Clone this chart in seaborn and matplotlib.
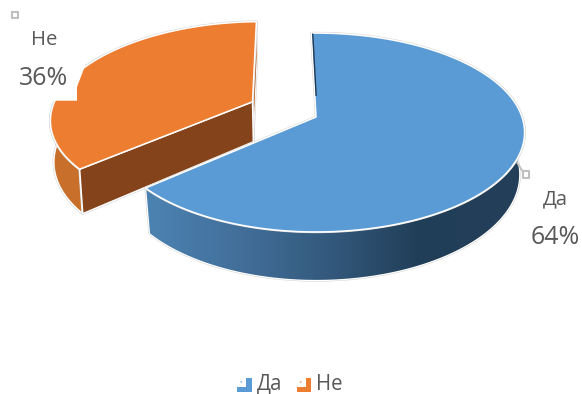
import numpy as np
import matplotlib
matplotlib.use("Agg")
import matplotlib.pyplot as plt
from matplotlib.colors import to_rgb
from matplotlib.legend_handler import HandlerBase
from matplotlib.patches import Circle, Patch, Polygon
import seaborn as sns

# Survey answers
categories = ["Да", "Не"]
shares = [64, 36]
top_colors = ["#5b9bd5", "#ed7d31"]

# Projection of the tilted pie onto the canvas (pixel units)
CX, CY = 316.0, 117.0
RX_RIGHT, RX_LEFT, RY = 206.0, 203.0, 97.0
PERSP = 0.156
DEPTH = 41.0
BASE_SHRINK = 0.977
BASE_SHRINK_OUT = 0.987
EXPLODE = 0.35
LIFT = 0.02
START = -1.5

sns.set_theme(style="white")
plt.rcParams["font.family"] = ["Open Sans", "DejaVu Sans"]
TEXT = "#595959"

fig = plt.figure(figsize=(5.82, 3.94), dpi=100)
ax = fig.add_axes([0, 0, 1, 1])


def project(x, y):
    w = 1 + PERSP * y
    rx = np.where(np.asarray(x) < 0, RX_LEFT, RX_RIGHT)
    return CX + rx * x / w, CY - RY * y / w, w


def ring(theta, off, shrink):
    """Top and base outlines for clock angles theta on a pie moved by off."""
    t = np.radians(theta)
    sx, sy, w = project(off[0] + np.sin(t), off[1] + np.cos(t))
    top = np.column_stack([sx, sy])
    base = np.column_stack([CX + (sx - CX) * shrink, sy + DEPTH / w])
    return top, base


def apex(off, shrink):
    sx, sy, w = project(off[0], off[1])
    return np.array([sx, sy]), np.array([CX + (sx - CX) * shrink, sy + DEPTH / w])


def face(points, color, z, edge="white", lw=1.1):
    ax.add_patch(Polygon(points, closed=True, facecolor=color, edgecolor="#d4d4d4",
                         lw=lw + 0.7, zorder=z - 0.1, joinstyle="round"))
    ax.add_patch(Polygon(points, closed=True, facecolor=color, edgecolor=edge,
                         lw=lw, zorder=z, joinstyle="round"))


angles = np.cumsum([0] + [s * 3.6 for s in shares]) + START

# Orange slice, pulled out along its bisector
a0, a1 = angles[1], angles[2]
mid = np.radians((a0 + a1) / 2)
off = (EXPLODE * np.sin(mid), EXPLODE * np.cos(mid) + LIFT)
top, base = ring(np.linspace(a0, a1, 120), off, BASE_SHRINK_OUT)
atop, abase = apex(off, BASE_SHRINK_OUT)
stop, sbase = ring(np.linspace(a0, a0 + 75, 70), off, BASE_SHRINK_OUT)
face(np.vstack([stop, sbase[::-1]]), "#c8702b", 2)
face(np.vstack([[atop], top[-1:], base[-1:], [abase]]), "#b5622a", 2.1, lw=0.7)
face(np.vstack([[atop], top[:1], base[:1], [abase]]), "#84431a", 2.2)
face(np.vstack([[atop], top]), top_colors[1], 2.3)

# Backdrop of the "Не" data label, cutting into the orange slice
ax.add_patch(Polygon([(85, 66), (77, 87), (77, 100.7), (10, 100.7), (10, 58), (85, 58)],
                     closed=True, facecolor="white", edgecolor="none", zorder=2.6))

# Blue slice with a shaded rim
a0, a1 = angles[0], angles[1]
off = (0.0, 0.0)
top, base = ring(np.linspace(a0, a1, 240), off, BASE_SHRINK)
atop, abase = apex(off, BASE_SHRINK)
stop, sbase = ring(np.linspace(a1, 62, 200), off, BASE_SHRINK)
rim = np.vstack([stop, sbase[::-1]])
face(rim, "none", 3.1, lw=0.9)

stops_x = [130, 150, 240, 330, 420, 530]
stops_c = ["#4c82b1", "#4c82b1", "#426f9a", "#33597c", "#213e58", "#243f58"]
xs = np.linspace(130, 530, 400)
grad = np.column_stack([np.interp(xs, stops_x, [to_rgb(c)[i] for c in stops_c]) for i in range(3)])
shade = sns.blend_palette(grad, n_colors=400, as_cmap=True)
img = ax.imshow(np.linspace(0, 1, 400)[None, :], cmap=shade, aspect="auto",
                extent=(130, 530, 290, 100), zorder=3.0, interpolation="bilinear")
img.set_clip_path(Polygon(rim, closed=True, transform=ax.transData))

face(np.vstack([[atop], top]), top_colors[0], 3.2)

# Sliver of the hidden cut face next to the centre
edge_t = np.linspace(0.25, 0.995, 2)[:, None]
sliver = atop + (top[0] - atop) * edge_t
ax.add_patch(Polygon(np.vstack([sliver + [0.6, 0], (sliver + [2.0, 0])[::-1]]),
                     closed=True, facecolor="#1f3a54", edgecolor="none", zorder=3.3))

# Data labels
ax.text(44, 39.5, categories[1], fontsize=14.6, color=TEXT, ha="center", va="center", zorder=5)
ax.text(44, 78, f"{shares[1]}%", fontsize=18, color=TEXT, ha="center", va="center", zorder=5)
ax.text(555, 199.5, categories[0], fontsize=14.6, color=TEXT, ha="center", va="center", zorder=5)
ax.text(555, 237, f"{shares[0]}%", fontsize=18, color=TEXT, ha="center", va="center", zorder=5)

# Label anchors and leader line
for x, y in [(15, 15), (526, 174.5)]:
    ax.plot([x - 3.2, x + 3.2, x + 3.2, x - 3.2, x - 3.2],
            [y - 3.2, y - 3.2, y + 3.2, y + 3.2, y - 3.2],
            color="#bfbfbf", lw=1.5, zorder=5)
ax.plot([517, 522.5], [162.5, 171], color="#bfbfbf", lw=1.3, zorder=4.9)


class CornerKey(HandlerBase):
    """Legend key drawn as an L-shaped corner with a small dot."""

    def create_artists(self, legend, orig, xd, yd, width, height, fontsize, trans):
        color = orig.get_facecolor()
        s = height
        x0 = -xd
        y0 = -yd - 1.5
        k = 0.64
        pts = [(x0, y0), (x0 + s, y0), (x0 + s, y0 + s), (x0 + k * s, y0 + s),
               (x0 + k * s, y0 + (1 - k) * s), (x0, y0 + (1 - k) * s)]
        body = Polygon(pts, closed=True, facecolor=color, edgecolor="none", transform=trans)
        dot = Circle((x0 + 0.28 * s, y0 + 0.7 * s), 0.07 * s, facecolor=color,
                     edgecolor="none", transform=trans, alpha=0.6)
        return [body, dot]


handles = [Patch(facecolor=c, label=n) for c, n in zip(top_colors, categories)]
legend = ax.legend(handles=handles, loc="center", bbox_to_anchor=(290 / 582, 1 - 384.5 / 394),
                   ncol=2, frameon=False, fontsize=14.8, labelcolor=TEXT,
                   handler_map={Patch: CornerKey()}, handlelength=0.7, handleheight=0.7,
                   handletextpad=0.25, columnspacing=0.7, borderpad=0, borderaxespad=0)

ax.set_xlim(0, 582)
ax.set_ylim(394, 0)
ax.axis("off")

fig.savefig("out.png", dpi=100, facecolor="white")
